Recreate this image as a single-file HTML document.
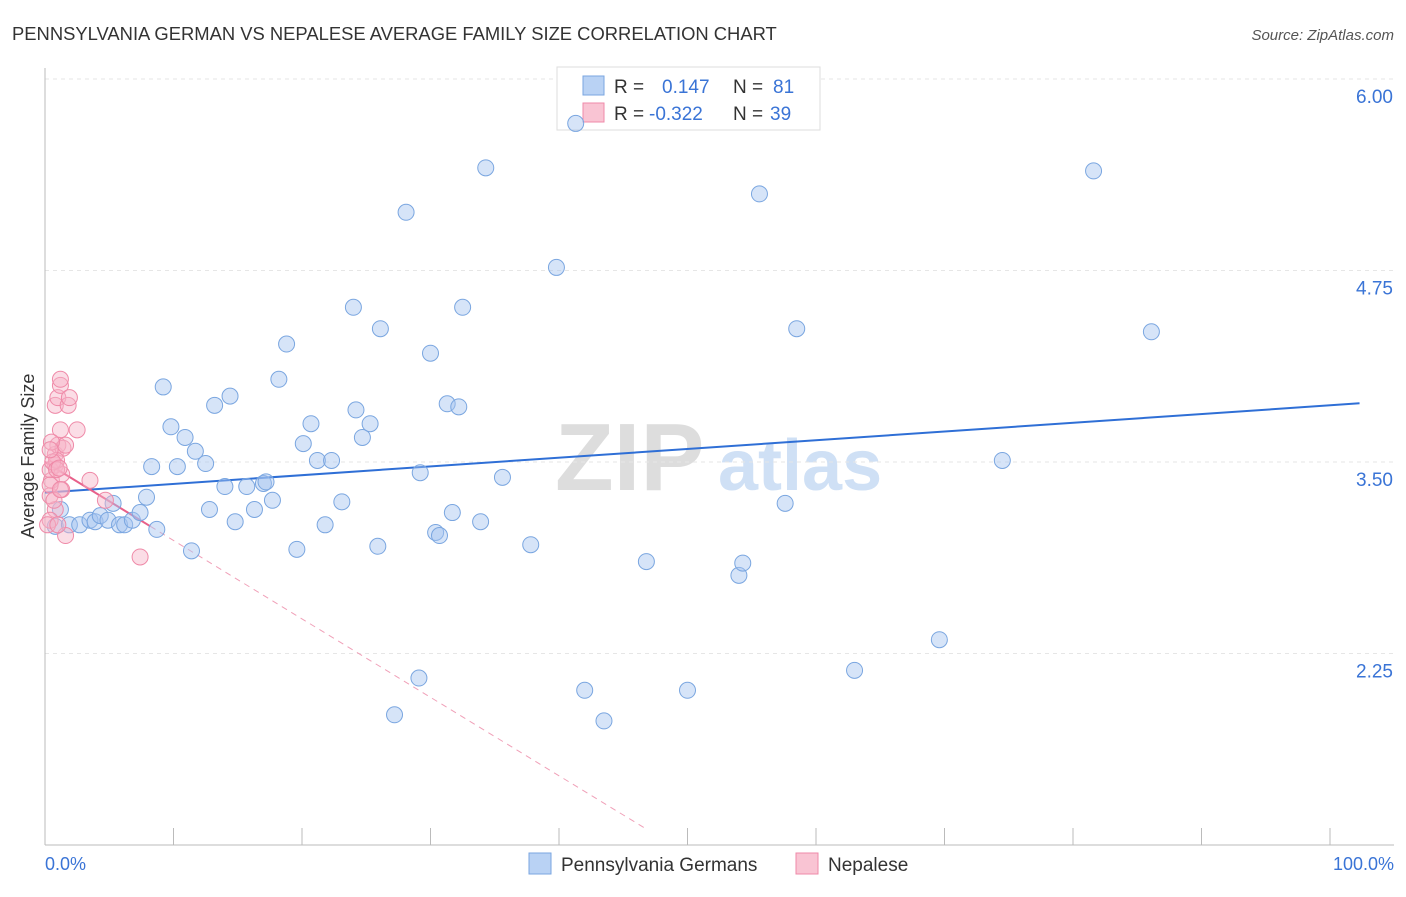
<!DOCTYPE html>
<html><head><meta charset="utf-8"><style>
body{margin:0;background:#fff;font-family:"Liberation Sans",sans-serif;}
svg text{font-family:"Liberation Sans",sans-serif;}
</style></head><body>
<svg width="1406" height="892" xmlns="http://www.w3.org/2000/svg">
<text x="12" y="40" font-size="18.4" fill="#333">PENNSYLVANIA GERMAN VS NEPALESE AVERAGE FAMILY SIZE CORRELATION CHART</text>
<text x="1394" y="40" font-size="15" fill="#555" font-style="italic" text-anchor="end">Source: ZipAtlas.com</text>
<g><text x="555" y="490" font-size="96" font-family="Liberation Serif" fill="#ddd" font-weight="bold">ZIP</text><text x="718" y="490" font-size="72" fill="#cfe0f5" font-weight="bold">atlas</text></g>
<g id="grid"></g><g id="axes"></g>
<g>
<rect x="557" y="67" width="263" height="63" fill="#fff" stroke="#ddd"/>
<rect x="583" y="76" width="21" height="19" fill="#b9d2f4" stroke="#7aa6e0"/>
<rect x="583" y="103" width="21" height="19" fill="#f9c4d3" stroke="#ef8aa8"/>
<text x="614" y="93" font-size="19" fill="#333">R =</text><text x="662" y="93" font-size="19" fill="#3a74d6">0.147</text>
<text x="733" y="93" font-size="19" fill="#333">N =</text><text x="773" y="93" font-size="19" fill="#3a74d6">81</text>
<text x="614" y="120" font-size="19" fill="#333">R =</text><text x="649" y="120" font-size="19" fill="#3a74d6">-0.322</text>
<text x="733" y="120" font-size="19" fill="#333">N =</text><text x="770" y="120" font-size="19" fill="#3a74d6">39</text>
</g>
<g id="lines"></g><g id="pts"></g>
<text transform="translate(34,456) rotate(-90)" font-size="18" fill="#333" text-anchor="middle">Average Family Size</text>
<text x="45" y="870" font-size="18" fill="#3a74d6">0.0%</text>
<text x="1394" y="870" font-size="18" fill="#3a74d6" text-anchor="end">100.0%</text>
<g>
<rect x="529" y="853" width="22" height="21" fill="#b9d2f4" stroke="#7aa6e0"/>
<text x="561" y="871" font-size="19" fill="#333">Pennsylvania Germans</text>
<rect x="796" y="853" width="22" height="21" fill="#f9c4d3" stroke="#ef8aa8"/>
<text x="828" y="871" font-size="19" fill="#333">Nepalese</text>
</g>
</svg>
<script>
const yTicks=[6.00,4.75,3.50,2.25];
const xTicks=[0,10,20,30,40,50,60,70,80,90,100];
const blueX=[0.8,1.2,1.9,2.7,3.5,3.9,4.3,4.9,5.3,5.8,6.2,6.8,7.4,7.9,8.3,8.7,9.2,9.8,10.3,10.9,11.4,11.7,12.5,12.8,13.2,14.0,14.4,14.8,15.7,16.3,17.0,17.2,17.7,18.2,18.8,19.6,20.1,20.7,21.2,21.8,22.3,23.1,24.0,24.2,24.7,25.3,25.9,26.1,28.1,27.2,29.1,29.2,30.0,30.4,30.7,31.3,31.7,32.2,32.5,33.9,34.3,35.6,37.8,39.8,41.3,42.0,43.5,46.8,50.0,54.0,54.3,55.6,57.6,58.5,63.0,69.6,74.5,81.6,86.1];
const blueY=[3.08,3.19,3.09,3.09,3.12,3.11,3.15,3.12,3.23,3.09,3.09,3.12,3.17,3.27,3.47,3.06,3.99,3.73,3.47,3.66,2.92,3.57,3.49,3.19,3.87,3.34,3.93,3.11,3.34,3.19,3.36,3.37,3.25,4.04,4.27,2.93,3.62,3.75,3.51,3.09,3.51,3.24,4.51,3.84,3.66,3.75,2.95,4.37,5.13,1.85,2.09,3.43,4.21,3.04,3.02,3.88,3.17,3.86,4.51,3.11,5.42,3.40,2.96,4.77,5.71,2.01,1.81,2.85,2.01,2.76,2.84,5.25,3.23,4.37,2.14,2.34,3.51,5.40,4.35];
const pinkX=[0.8,0.4,0.4,0.5,0.8,0.8,0.4,1.0,1.2,0.8,1.0,1.2,1.2,1.4,1.6,1.3,1.3,1.6,1.8,1.9,2.5,3.5,4.7,7.4,0.5,0.9,0.4,0.7,1.2,0.2,0.6,0.9,1.1,0.4,1.0];
const pinkY=[3.19,3.12,3.28,3.38,3.48,3.55,3.45,3.61,3.71,3.87,3.92,4.00,4.04,3.59,3.61,3.42,3.32,3.02,3.87,3.92,3.71,3.38,3.25,2.88,3.63,3.51,3.35,3.25,3.32,3.09,3.50,3.45,3.46,3.58,3.09];
const blueTrend=[3.30,0.0057];
const pinkTrend=[3.50,-0.0512];
const X=p=>45+p*12.85, Y=v=>79+(6-v)*153.2;
const NS='http://www.w3.org/2000/svg';
function mk(t,a,p){const e=document.createElementNS(NS,t);for(const k in a)e.setAttribute(k,a[k]);document.getElementById(p).appendChild(e);return e;}
yTicks.forEach(v=>{
 const g=mk('line',{x1:45,x2:1394,y1:Y(v),y2:Y(v),stroke:'#e6e6e6','stroke-dasharray':'4,4'},'grid');
 
 
 const t=mk('text',{x:1393,y:Y(v)+24,'font-size':19,fill:'#3a74d6','text-anchor':'end'},'axes');t.textContent=v.toFixed(2);
 
 
});
const ax=mk('line',{x1:45,x2:45,y1:68,y2:845,stroke:'#bbb'},'axes');


const bx=mk('line',{x1:45,x2:1394,y1:845,y2:845,stroke:'#bbb'},'axes');


xTicks.forEach(p=>{const t=mk('line',{x1:X(p),x2:X(p),y1:828,y2:845,stroke:'#bbb'},'axes');
 
 });
blueX.forEach((p,i)=>{const c=mk('circle',{cx:X(p),cy:Y(blueY[i]),r:8,fill:'rgba(164,196,240,0.45)',stroke:'#7aa6e0','stroke-width':1},'pts');
 
 });
pinkX.forEach((p,i)=>{const c=mk('circle',{cx:X(p),cy:Y(pinkY[i]),r:8,fill:'rgba(246,180,200,0.45)',stroke:'#ef8aa8','stroke-width':1},'pts');
 
 });
const bl=mk('line',{x1:X(0),y1:Y(blueTrend[0]),x2:X(102.3),y2:Y(blueTrend[0]+blueTrend[1]*102.3),stroke:'#2f6fd6','stroke-width':2},'lines');


const pl=mk('line',{x1:X(0),y1:Y(pinkTrend[0]),x2:X(8.2),y2:Y(pinkTrend[0]+pinkTrend[1]*8.2),stroke:'#e8608a','stroke-width':2},'lines');


const pd=mk('line',{x1:X(8.2),y1:Y(pinkTrend[0]+pinkTrend[1]*8.2),x2:X(46.7),y2:Y(pinkTrend[0]+pinkTrend[1]*46.7),stroke:'#f0a0b8','stroke-width':1,'stroke-dasharray':'6,5'},'lines');


</script>
</body></html>
